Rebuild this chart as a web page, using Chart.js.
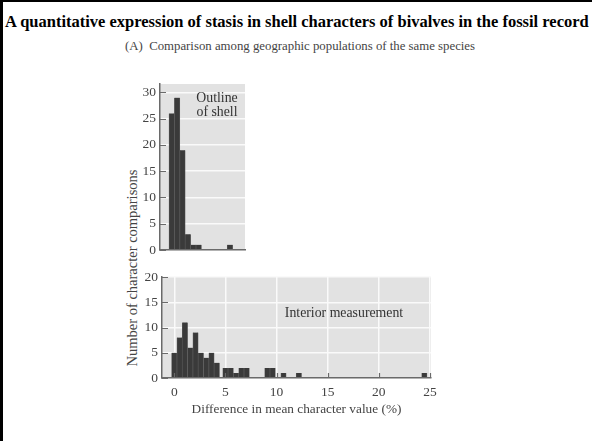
<!DOCTYPE html>
<html>
<head>
<meta charset="utf-8">
<script src="https://cdn.jsdelivr.net/npm/chart.js@4/dist/chart.umd.min.js"></script>
<style>
  html, body { margin: 0; padding: 0; background: #fff; }
  #page { position: relative; width: 592px; height: 441px; overflow: hidden; font-family: "Liberation Serif", "Times New Roman", serif; }
  #frame { position: absolute; left: 0; top: 0; width: 620px; height: 470px; border-left: 3px solid #000; border-top: 2px solid #000; box-sizing: border-box; }
  #title { position: absolute; left: 5px; top: 12px; font-weight: bold; font-size: 16.5px; white-space: nowrap; color: #000; }
  #subtitle { position: absolute; left: 0; width: 600px; text-align: center; top: 39px; font-size: 12.8px; color: #444; white-space: nowrap; }
  #ylabel { position: absolute; left: 132px; top: 268px; transform: translate(-50%, -50%) rotate(-90deg); white-space: nowrap; font-size: 14.5px; color: #444; }
  .note { position: absolute; font-size: 13.8px; color: #333; text-align: center; line-height: 14px; white-space: nowrap; transform: translateX(-50%); }
  canvas { position: absolute; }
</style>
</head>
<body>
<div id="page">
  <div id="frame"></div>
  <div id="title">A quantitative expression of stasis in shell characters of bivalves in the fossil record</div>
  <div id="subtitle">(A)&nbsp; Comparison among geographic populations of the same species</div>
  <div id="ylabel">Number of character comparisons</div>
  <canvas id="outlineCanvas" width="160" height="195" style="left:100px; top:70px;"></canvas>
  <canvas id="interiorCanvas" width="360" height="160" style="left:100px; top:262px;"></canvas>
  <div class="note" style="left:217px; top:91px;">Outline<br>of shell</div>
  <div class="note" style="left:344px; top:306px;">Interior measurement</div>
</div>
<script>
// Histogram of outline-of-shell comparisons (bin centre, % difference)
const outlineBins = [0, 0.52, 1.04, 1.56, 2.08, 2.6, 5.6];
const outlineCounts = [26, 29, 19, 3, 1, 1, 1];
const outlineYTicks = [0, 5, 10, 15, 20, 25, 30];

// Histogram of interior-measurement comparisons (bin centre, % difference)
const interiorBins = [0, 0.52, 1.04, 1.56, 2.08, 2.6, 3.12, 3.64, 4.16, 5.0, 5.52, 6.04, 6.56, 7.08, 9.1, 9.62, 10.68, 12.18, 24.45];
const interiorCounts = [5, 8, 11, 6, 9, 5, 4, 5, 3, 2, 2, 1, 2, 2, 2, 2, 1, 1, 1];
const interiorYTicks = [0, 5, 10, 15, 20];
const xTicks = [0, 5, 10, 15, 20, 25];

const xTitle = 'Difference in mean character value (%)';

const FONT = '"Liberation Serif", "Times New Roman", serif';
const AXIS = '#6a6a6a';
const BAR = '#3a3a3a';

// grey panel behind the bars
const panelBackground = {
  id: 'panelBackground',
  beforeDraw(chart) {
    const { ctx, chartArea: a } = chart;
    ctx.save();
    ctx.fillStyle = '#e2e2e2';
    ctx.fillRect(a.left, a.top, a.right - a.left, a.bottom - a.top);
    ctx.restore();
  }
};

// short tick marks pointing into the panel
const innerTicks = {
  id: 'innerTicks',
  afterDraw(chart, args, opts) {
    const { ctx, chartArea: a, scales } = chart;
    ctx.save();
    ctx.strokeStyle = AXIS;
    ctx.lineWidth = 1.2;
    ctx.beginPath();
    scales.y.ticks.forEach(t => {
      const py = Math.round(scales.y.getPixelForValue(t.value)) + 0.5;
      ctx.moveTo(a.left, py);
      ctx.lineTo(a.left + 6, py);
    });
    if (opts.xTicks) {
      scales.x.ticks.forEach(t => {
        const px = Math.round(scales.x.getPixelForValue(t.value)) + 0.5;
        ctx.moveTo(px, a.bottom);
        ctx.lineTo(px, a.bottom - 5);
      });
    }
    ctx.stroke();
    ctx.restore();
  }
};

function barDataset(bins, counts, thickness) {
  return {
    data: bins.map((x, i) => ({ x: x, y: counts[i] })),
    backgroundColor: BAR,
    borderColor: '#5e5e5e',
    borderWidth: { left: 0.6, right: 0.6, top: 0, bottom: 0 },
    borderSkipped: false,
    barThickness: thickness
  };
}

const tickFont = { family: FONT, size: 13.5 };

new Chart(document.getElementById('outlineCanvas'), {
  type: 'bar',
  data: { datasets: [barDataset(outlineBins, outlineCounts, 5.4)] },
  options: {
    responsive: false,
    animation: false,
    layout: { padding: { left: 0, right: 15, top: 14, bottom: 15 } },
    plugins: { legend: { display: false }, tooltip: { enabled: false }, innerTicks: { xTicks: false } },
    scales: {
      x: {
        type: 'linear', min: -1.125, max: 7.05, offset: false,
        ticks: { display: false },
        grid: { display: false, offset: false, drawTicks: false },
        border: { display: true, color: AXIS, width: 1.5, z: 1 },
        afterFit: s => { s.height = 0; }
      },
      y: {
        min: 0, max: 31.6,
        afterBuildTicks: s => { s.ticks = outlineYTicks.map(v => ({ value: v })); },
        ticks: { padding: 4, font: tickFont, color: '#444' },
        grid: { color: '#fafafa', lineWidth: 1.5, drawTicks: false },
        border: { color: AXIS, width: 1.5, z: 1 },
        afterFit: s => { s.width = 60; }
      }
    }
  },
  plugins: [panelBackground, innerTicks]
});

new Chart(document.getElementById('interiorCanvas'), {
  type: 'bar',
  data: { datasets: [barDataset(interiorBins, interiorCounts, 5.3)] },
  options: {
    responsive: false,
    animation: false,
    layout: { padding: { left: 0, right: 29, top: 15, bottom: 3 } },
    plugins: { legend: { display: false }, tooltip: { enabled: false }, innerTicks: { xTicks: true } },
    scales: {
      x: {
        type: 'linear', min: -1.2, max: 25.1, offset: false,
        afterBuildTicks: s => { s.ticks = xTicks.map(v => ({ value: v })); },
        ticks: { padding: 6, font: tickFont, color: '#444', maxRotation: 0 },
        grid: { color: '#fafafa', lineWidth: 1.5, drawTicks: false, offset: false },
        border: { display: true, color: AXIS, width: 1.5, z: 1 },
        title: { display: true, text: xTitle, font: { family: FONT, size: 13.3 }, color: '#444', padding: { top: 0, bottom: 2 } },
        afterFit: s => { s.height = 41; }
      },
      y: {
        min: 0, max: 20,
        afterBuildTicks: s => { s.ticks = interiorYTicks.map(v => ({ value: v })); },
        ticks: { padding: 4, font: tickFont, color: '#444' },
        grid: { color: '#fafafa', lineWidth: 1.5, drawTicks: false },
        border: { color: AXIS, width: 1.5, z: 1 },
        afterFit: s => { s.width = 62; }
      }
    }
  },
  plugins: [panelBackground, innerTicks]
});
</script>
</body>
</html>
